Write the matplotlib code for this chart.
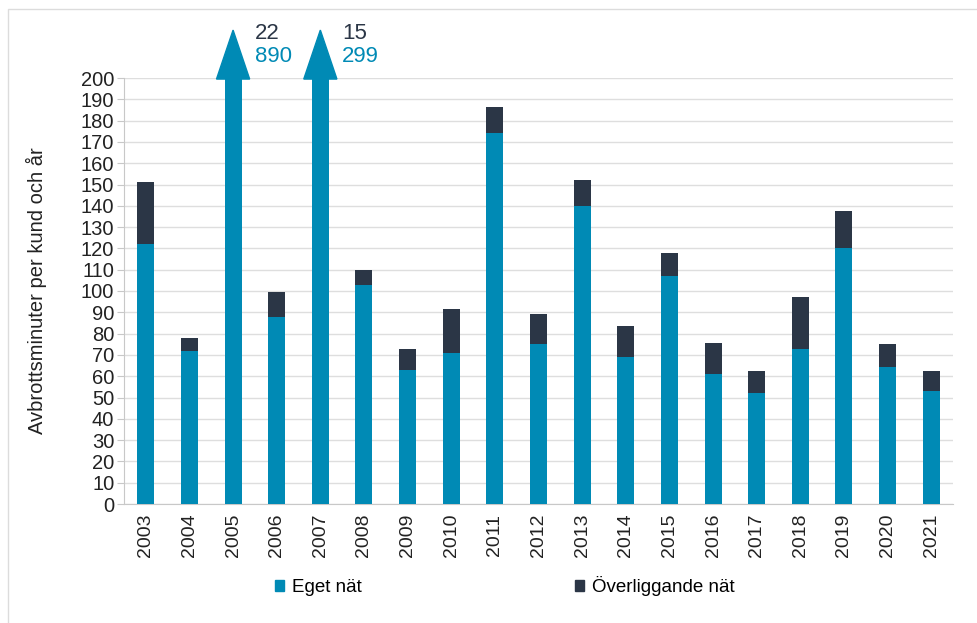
import matplotlib.pyplot as plt
from matplotlib.patches import Polygon, Patch, Rectangle
import numpy as np

plt.rcParams['font.family'] = ['Liberation Sans', 'DejaVu Sans']

# ---- data ----
years = ['2003', '2004', '2005', '2006', '2007', '2008', '2009', '2010', '2011', '2012',
         '2013', '2014', '2015', '2016', '2017', '2018', '2019', '2020', '2021']
eget = [122, 72, 890, 88, 299, 103, 63, 71, 174, 75,
        140, 69, 107, 61, 52, 73, 120, 64.5, 53]
overl = [29, 6, 22, 11.5, 15, 7, 10, 20.5, 12.5, 14,
         12, 14.5, 11, 14.5, 10.5, 24, 17.5, 10.5, 9.5]
# years whose values run off the scale, drawn with an arrow
off_scale = ['2005', '2007']

BLUE = '#008ab5'
DARK = '#2b3646'
GRID = '#dedede'

fig = plt.figure(figsize=(9.78, 6.23), dpi=100)
ax = fig.add_axes([124 / 978, 1 - 504 / 623, 829 / 978, 426 / 623])

x = np.arange(len(years))
w = 0.39
ax.bar(x, eget, width=w, color=BLUE, zorder=3)
ax.bar(x, overl, width=w, bottom=eget, color=DARK, zorder=3)

ax.set_ylim(0, 200)
ax.set_xlim(-0.5, len(years) - 0.5)
ax.set_yticks(range(0, 201, 10))
ax.set_xticks(x)
ax.set_xticklabels(years, rotation=90)
ax.grid(axis='y', color=GRID, lw=1, zorder=0)
for s in ['top', 'right']:
    ax.spines[s].set_visible(False)
for s in ['left', 'bottom']:
    ax.spines[s].set_color('#c8c8c8')
ax.tick_params(axis='y', length=5, color='#c8c8c8', labelsize=14.5, pad=2, labelcolor='#222222')
ax.tick_params(axis='x', length=0, labelsize=14, pad=7, labelcolor='#222222')
ax.set_ylabel('Avbrottsminuter per kund och år', fontsize=14.5, color='#222222')
ax.yaxis.set_label_coords(-(124 - 47) / 829, 0.5)

# arrow heads and labels for the off-scale storm years
for yr in off_scale:
    i = years.index(yr)
    head = Polygon([[i - 0.38, 199.5], [i + 0.38, 199.5], [i, 222.5]], closed=True,
                   color=BLUE, clip_on=False, zorder=4)
    ax.add_patch(head)
    ax.bar(i, 2, width=w, bottom=198, color=BLUE, clip_on=False, zorder=4)
    ax.text(i + 0.5, 221, f'{overl[i]:g}', color=DARK, fontsize=16, ha='left', va='center',
            clip_on=False)
    ax.text(i + 0.5, 210.2, f'{eget[i]:g}', color=BLUE, fontsize=16, ha='left', va='center',
            clip_on=False)

# legend
handles = [Patch(color=BLUE, label='Eget nät'), Patch(color=DARK, label='Överliggande nät')]
fig.legend(handles=handles, loc='center', bbox_to_anchor=(0.516, 1 - 586 / 623), ncol=2,
           frameon=False, fontsize=13.5, handlelength=0.5, handleheight=0.5,
           handletextpad=0.4, columnspacing=11.4)

# light frame round the chart area
fig.patches.append(Rectangle((8 / 978, -0.1), 1.2, 1 - 9 / 623 + 0.1, transform=fig.transFigure,
                             fill=False, edgecolor='#dcdcdc', lw=1))

fig.savefig('out.png', dpi=100)
